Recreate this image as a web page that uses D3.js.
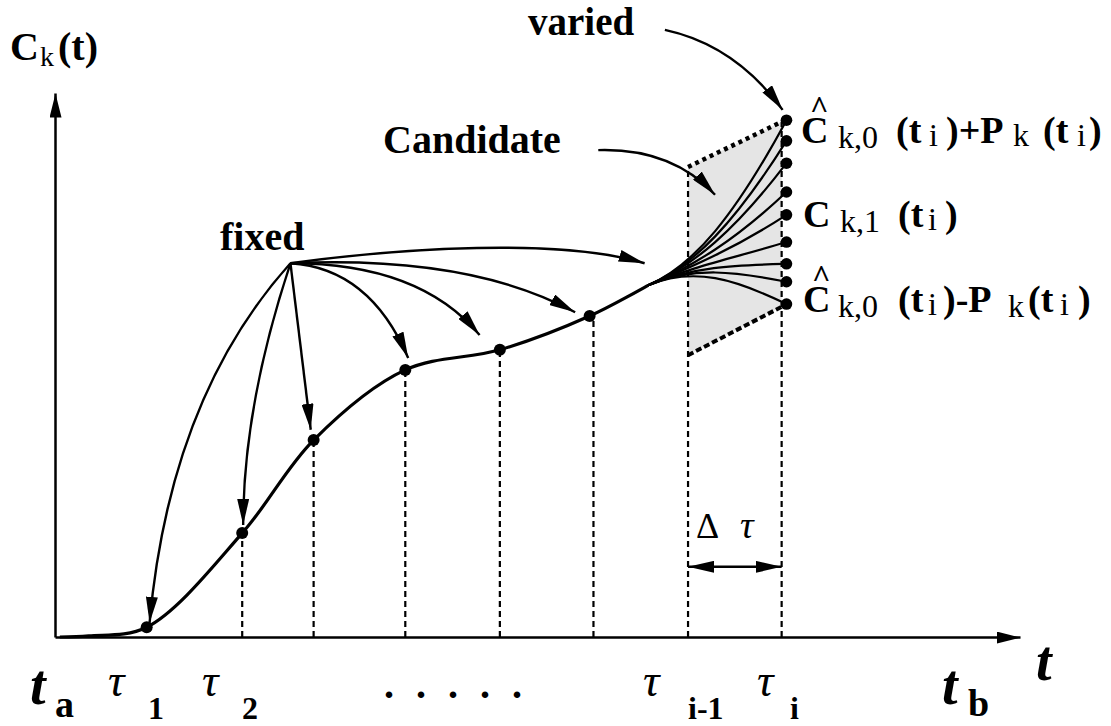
<!DOCTYPE html>
<html lang="en">
<head>
<meta charset="UTF-8">
<title>Candidate curves</title>
<script src="https://d3js.org/d3.v7.min.js"></script>
<style>
  body { margin: 0; background: #fff; }
</style>
</head>
<body>
<div id="chart"></div>
<script>
// the fixed part of C_k(t), through the knots tau_1 .. tau_{i-1}
var curveT = [0.05, 0.35, 0.95, 1.94, 2.68, 3.63, 4.61, 5.54, 6.14];
var curveC = [0, 0.02, 0.18, 1.91, 3.62, 4.91, 5.28, 5.90, 6.46];

// knot dots on the curve
var dotT = [0.95, 1.94, 2.68, 3.63, 4.61, 5.54];
var dotC = [0.18, 1.91, 3.62, 4.91, 5.28, 5.90];

// dashed verticals (t, top)
var dashT = [1.94, 2.68, 3.63, 4.61, 5.58, 6.56, 7.53];
var dashTop = [1.91, 3.62, 4.91, 5.28, 5.90, 8.64, 9.47];

// candidate fan: start, shared tangent point, end values at tau_i
var fanStart = [6.14, 6.46];
var fanPull = [6.62, 6.82];
var fanEndT = 7.58;
var fanEndC = [9.50, 9.12, 8.71, 8.18, 7.76, 7.26, 6.86, 6.53, 6.12];

// shaded band between C-P and C+P
var bandT = [6.56, 7.53, 7.53, 6.56];
var bandC = [8.64, 9.47, 6.07, 5.18];

// "fixed" arrows: origin, tips, bend points
var fixedFrom = [2.44, 6.87];
var fixedTips = [[0.98, 0.26], [1.95, 2.06], [2.65, 3.81], [3.66, 5.13], [4.40, 5.55], [5.39, 5.97], [6.11, 6.87]];
var fixedBend = [[[1.19, 4.41]], [[1.95, 4.25]], [[2.54, 5.37]], [[3.26, 6.78]], [[3.78, 6.87]], [[4.30, 7.02]], [[3.58, 7.15], [5.23, 7.34]]];

var candidateArrow = [[5.63, 8.95], [6.39, 8.99], [6.84, 8.13]];
var variedArrow = [[6.32, 11.16], [7.05, 10.88], [7.54, 9.69]];

var deltaT = [6.56, 7.53];
var deltaC = 1.29;

var W = 1111, H = 726;
var serif = '"Liberation Serif", "Times New Roman", serif';

var svg = d3.select("#chart")
    .append("svg")
    .attr("width", W)
    .attr("height", H);

var x = d3.scaleLinear().domain([0, 10]).range([55, 1020]);
var y = d3.scaleLinear().domain([0, 10]).range([637, 93]);

var defs = svg.append("defs");
function marker(id, len, wid) {
    defs.append("marker")
        .attr("id", id)
        .attr("markerUnits", "userSpaceOnUse")
        .attr("markerWidth", len)
        .attr("markerHeight", wid)
        .attr("refX", len)
        .attr("refY", wid / 2)
        .attr("orient", "auto-start-reverse")
        .append("path")
        .attr("d", "M0,0L" + len + "," + (wid / 2) + "L0," + wid + "Z")
        .attr("fill", "#000");
}
marker("axisHead", 24, 12);
marker("head", 26, 12);

// shaded band
svg.append("path")
    .attr("d", d3.line()(bandT.map(function (t, i) { return [x(t), y(bandC[i])]; })) + "Z")
    .attr("fill", "#e5e5e5");

svg.append("line")
    .attr("x1", x(bandT[0])).attr("y1", y(bandC[0]))
    .attr("x2", x(bandT[1])).attr("y2", y(bandC[1]))
    .attr("stroke", "#000").attr("stroke-width", 4.5).attr("stroke-dasharray", "4,4");
svg.append("line")
    .attr("x1", x(bandT[3])).attr("y1", y(bandC[3]))
    .attr("x2", x(bandT[2])).attr("y2", y(bandC[2]))
    .attr("stroke", "#000").attr("stroke-width", 4).attr("stroke-dasharray", "6,3");

// dashed verticals
svg.selectAll(".dash")
    .data(dashT)
    .enter()
    .append("line")
    .attr("x1", function (d) { return x(d); })
    .attr("x2", function (d) { return x(d); })
    .attr("y1", y(0))
    .attr("y2", function (d, i) { return y(dashTop[i]); })
    .attr("stroke", "#000")
    .attr("stroke-width", 2.2)
    .attr("stroke-dasharray", "6,4");

// axes (no ticks, arrow ends)
svg.append("g")
    .attr("transform", "translate(0," + y(0) + ")")
    .call(d3.axisBottom(x).tickValues([]).tickSizeOuter(0))
    .select(".domain")
    .attr("stroke-width", 2.5)
    .attr("marker-end", "url(#axisHead)");
svg.append("g")
    .attr("transform", "translate(" + x(0) + ",0)")
    .call(d3.axisLeft(y).tickValues([]).tickSizeOuter(0))
    .select(".domain")
    .attr("stroke-width", 2.5)
    .attr("marker-end", "url(#axisHead)");

// main curve
var line = d3.line()
    .x(function (d) { return x(d[0]); })
    .y(function (d) { return y(d[1]); })
    .curve(d3.curveCatmullRom.alpha(0.5));
svg.append("path")
    .attr("d", line(curveT.map(function (t, i) { return [t, curveC[i]]; })))
    .attr("fill", "none")
    .attr("stroke", "#000")
    .attr("stroke-width", 3.2);

// candidate fan
fanEndC.forEach(function (c) {
    var p = d3.path();
    var c2 = fanPull[1] + (c - fanPull[1]) * 0.35;
    p.moveTo(x(fanStart[0]), y(fanStart[1]));
    p.bezierCurveTo(x(fanPull[0]), y(fanPull[1]), x(7.05), y(c2), x(fanEndT), y(c));
    svg.append("path")
        .attr("d", p.toString())
        .attr("fill", "none")
        .attr("stroke", "#000")
        .attr("stroke-width", 2.2);
});

svg.selectAll(".fdot")
    .data(fanEndC)
    .enter()
    .append("circle")
    .attr("cx", x(fanEndT))
    .attr("cy", function (d) { return y(d); })
    .attr("r", 5.8)
    .attr("fill", "#000");

svg.selectAll(".kdot")
    .data(dotT)
    .enter()
    .append("circle")
    .attr("cx", function (d) { return x(d); })
    .attr("cy", function (d, i) { return y(dotC[i]); })
    .attr("r", 6)
    .attr("fill", "#000");

// annotation arrows
function arrowPath(pts) {
    var p = d3.path();
    p.moveTo(x(pts[0][0]), y(pts[0][1]));
    if (pts.length === 3) {
        p.quadraticCurveTo(x(pts[1][0]), y(pts[1][1]), x(pts[2][0]), y(pts[2][1]));
    } else {
        p.bezierCurveTo(x(pts[1][0]), y(pts[1][1]), x(pts[2][0]), y(pts[2][1]), x(pts[3][0]), y(pts[3][1]));
    }
    return p.toString();
}
var arrows = fixedTips.map(function (tip, i) {
    return [fixedFrom].concat(fixedBend[i]).concat([tip]);
});
arrows.push(candidateArrow, variedArrow);

svg.selectAll(".arrow")
    .data(arrows)
    .enter()
    .append("path")
    .attr("d", arrowPath)
    .attr("fill", "none")
    .attr("stroke", "#000")
    .attr("stroke-width", 2.4)
    .attr("marker-end", "url(#head)");

// delta tau double arrow
svg.append("line")
    .attr("x1", x(deltaT[0])).attr("x2", x(deltaT[1]))
    .attr("y1", y(deltaC)).attr("y2", y(deltaC))
    .attr("stroke", "#000")
    .attr("stroke-width", 2.4)
    .attr("marker-start", "url(#head)")
    .attr("marker-end", "url(#head)");

// text
function label(parts, base) {
    var t = svg.append("text").style("font-family", serif).attr("fill", "#000");
    parts.forEach(function (p) {
        t.append("tspan")
            .attr("x", p[1])
            .attr("y", base + (p[2] || 0))
            .style("font-size", p[3] + "px")
            .style("font-weight", p[4] ? "bold" : "normal")
            .style("font-style", p[5] ? "italic" : "normal")
            .text(p[0]);
    });
    return t;
}
function word(s, px, py, size) {
    svg.append("text").attr("x", px).attr("y", py)
        .style("font-family", serif)
        .style("font-size", size + "px").style("font-weight", "bold").text(s);
}

word("varied", 528, 35, 39);
word("Candidate", 383, 153, 40);
word("fixed", 220, 250, 40);

label([["C", 10, 0, 40, 1], ["k", 40, 6, 28, 0], ["(t)", 58, 0, 40, 1]], 60);

label([["C", 801, 0, 38, 1], ["k,0", 838, 5, 32, 0], ["(t", 896, 0, 38, 1], ["i", 929, 3, 32, 0],
       [")+P", 946, 0, 38, 1], ["k", 1013, 3, 32, 0], ["(t", 1043, 0, 38, 1], ["i", 1077, 3, 32, 0],
       [")", 1089, 0, 38, 1]], 143);
label([["^", 810, 0, 32, 1]], 118);

label([["C", 803, 0, 38, 1], ["k,1", 840, 5, 32, 0], ["(t", 898, 0, 38, 1], ["i", 928, 3, 32, 0],
       [")", 945, 0, 38, 1]], 227);

label([["C", 803, 0, 38, 1], ["k,0", 838, 5, 32, 0], ["(t", 898, 0, 38, 1], ["i", 928, 3, 32, 0],
       [")-P", 943, 0, 38, 1], ["k", 1008, 5, 32, 0], ["(t", 1028, 0, 38, 1], ["i", 1060, 3, 32, 0],
       [")", 1078, 0, 38, 1]], 312);
label([["^", 812, 0, 32, 1]], 287);

// bottom labels
label([["t", 30, 0, 56, 1, 1], ["a", 55, 13, 38, 1]], 704);
label([["t", 942, 0, 56, 1, 1], ["b", 968, 12, 38, 1]], 704);
label([["t", 1036, 0, 56, 1, 1]], 680);

label([["τ", 108, 0, 46, 0, 1], ["1", 148, 23, 32, 1]], 696);
label([["τ", 202, 0, 46, 0, 1], ["2", 242, 23, 32, 1]], 696);
label([["τ", 643, 0, 46, 0, 1], ["i-1", 688, 23, 32, 1]], 696);
label([["τ", 757, 0, 46, 0, 1], ["i", 790, 23, 32, 1]], 696);

svg.append("text").attr("x", 384).attr("y", 698)
    .style("font-family", serif)
    .style("font-size", "40px").style("font-weight", "bold")
    .style("letter-spacing", "22px").text(".....");

label([["Δ", 696, 0, 36, 0], ["τ", 740, 0, 38, 0, 1]], 538);
</script>
</body>
</html>
